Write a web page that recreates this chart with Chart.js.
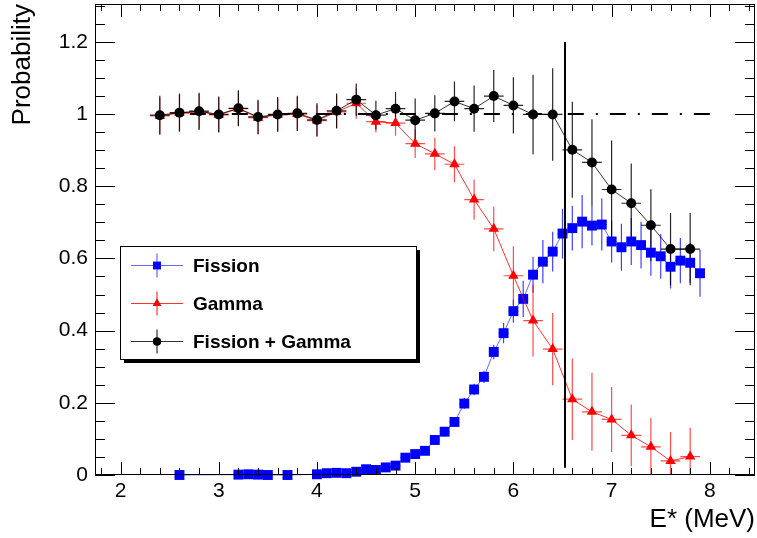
<!DOCTYPE html>
<html>
<head>
<meta charset="utf-8">
<script src="https://cdn.jsdelivr.net/npm/chart.js@4/dist/chart.umd.min.js"></script>
<style>
  html, body { margin: 0; padding: 0; background: #fff; }
</style>
</head>
<body>
<canvas id="chart" width="757" height="538"></canvas>
<script>
// Fission probability, 0.1 MeV bins
const fissionE = [2.6, 3.2, 3.3, 3.4, 3.5, 3.7,
  4.0, 4.1, 4.2, 4.3, 4.4, 4.5, 4.6, 4.7, 4.8, 4.9,
  5.0, 5.1, 5.2, 5.3, 5.4, 5.5, 5.6, 5.7, 5.8, 5.9,
  6.0, 6.1, 6.2, 6.3, 6.4, 6.5, 6.6, 6.7, 6.8, 6.9,
  7.0, 7.1, 7.2, 7.3, 7.4, 7.5, 7.6, 7.7, 7.8, 7.9];
const fissionP = [0.0, 0.001, 0.002, 0.001, 0.0, 0.0,
  0.002, 0.005, 0.006, 0.005, 0.009, 0.016, 0.014, 0.021, 0.026, 0.048,
  0.058, 0.067, 0.097, 0.120, 0.147, 0.198, 0.237, 0.272, 0.341, 0.393,
  0.454, 0.488, 0.555, 0.591, 0.619, 0.669, 0.684, 0.702, 0.691, 0.694,
  0.647, 0.631, 0.647, 0.637, 0.616, 0.606, 0.577, 0.594, 0.588, 0.559];
const fissionErr = [0.004, 0.004, 0.004, 0.004, 0.004, 0.004,
  0.004, 0.004, 0.004, 0.005, 0.005, 0.006, 0.006, 0.007, 0.008, 0.009,
  0.010, 0.011, 0.012, 0.013, 0.014, 0.015, 0.016, 0.017, 0.020, 0.028,
  0.032, 0.050, 0.050, 0.060, 0.055, 0.069, 0.062, 0.074, 0.055, 0.072,
  0.058, 0.065, 0.065, 0.065, 0.064, 0.062, 0.060, 0.063, 0.055, 0.065];

// Gamma and Fission + Gamma, 0.2 MeV bins
const sumE = [2.4, 2.6, 2.8, 3.0, 3.2, 3.4, 3.6, 3.8, 4.0, 4.2,
  4.4, 4.6, 4.8, 5.0, 5.2, 5.4, 5.6, 5.8, 6.0, 6.2,
  6.4, 6.6, 6.8, 7.0, 7.2, 7.4, 7.6, 7.8];
const gammaP = [0.995, 1.003, 1.006, 0.998, 1.015, 0.990, 0.998, 1.000, 0.982, 1.006,
  1.030, 0.979, 0.975, 0.918, 0.890, 0.861, 0.763, 0.682, 0.552, 0.428,
  0.349, 0.210, 0.175, 0.154, 0.110, 0.078, 0.039, 0.051];
const gammaErr = [0.050, 0.050, 0.050, 0.048, 0.048, 0.046, 0.046, 0.047, 0.044, 0.046,
  0.043, 0.030, 0.035, 0.040, 0.045, 0.050, 0.056, 0.062, 0.082, 0.100,
  0.100, 0.113, 0.108, 0.090, 0.085, 0.080, 0.080, 0.080];
const sumP = [0.997, 1.004, 1.008, 0.999, 1.016, 0.992, 0.999, 1.002, 0.984, 1.009,
  1.040, 0.997, 1.015, 0.983, 1.002, 1.035, 1.015, 1.050, 1.024, 0.999,
  0.999, 0.901, 0.866, 0.791, 0.753, 0.692, 0.626, 0.626];
const sumErr = [0.054, 0.053, 0.051, 0.050, 0.050, 0.048, 0.048, 0.049, 0.046, 0.048,
  0.045, 0.040, 0.046, 0.060, 0.050, 0.055, 0.064, 0.072, 0.078, 0.110,
  0.128, 0.133, 0.120, 0.136, 0.110, 0.100, 0.100, 0.100];

const xTicks = [2, 3, 4, 5, 6, 7, 8];
const yTicks = [0, 0.2, 0.4, 0.6, 0.8, 1, 1.2];

// reference lines
const cutEnergy = 6.53;
const cutRange = [0.02, 1.2];
const unityRange = [2.4, 8.0];

const FONT = "'Liberation Sans', Arial, Helvetica, sans-serif";
Chart.defaults.font.family = FONT;
Chart.defaults.color = "#000";

const toPoints = (xs, ys) => xs.map((x, i) => ({ x, y: ys[i] }));

const errorSets = [
  { xs: fissionE, ys: fissionP, err: fissionErr, half: 0.05, color: "rgba(0,0,255,0.75)" },
  { xs: sumE, ys: gammaP, err: gammaErr, half: 0.1, color: "rgba(255,0,0,0.7)" },
  { xs: sumE, ys: sumP, err: sumErr, half: 0.1, color: "rgba(0,0,0,0.85)" },
];

const errorBars = {
  id: "errorBars",
  beforeDatasetsDraw(chart) {
    const { ctx, chartArea: a, scales: { x, y } } = chart;
    ctx.save();
    ctx.beginPath();
    ctx.rect(a.left, a.top, a.right - a.left, a.bottom - a.top);
    ctx.clip();
    ctx.lineWidth = 1.2;
    errorSets.forEach((s) => {
      ctx.strokeStyle = s.color;
      ctx.beginPath();
      s.xs.forEach((xv, i) => {
        const px = x.getPixelForValue(xv);
        const py = y.getPixelForValue(s.ys[i]);
        ctx.moveTo(px, y.getPixelForValue(s.ys[i] - s.err[i]));
        ctx.lineTo(px, y.getPixelForValue(s.ys[i] + s.err[i]));
        ctx.moveTo(x.getPixelForValue(xv - s.half), py);
        ctx.lineTo(x.getPixelForValue(xv + s.half), py);
      });
      ctx.stroke();
    });
    ctx.restore();
  },
};

const refLines = {
  id: "refLines",
  afterDatasetsDraw(chart) {
    const { ctx, scales: { x, y } } = chart;
    ctx.save();
    ctx.strokeStyle = "#000";
    ctx.lineWidth = 2;
    ctx.beginPath();
    const cx = Math.round(x.getPixelForValue(cutEnergy));
    ctx.moveTo(cx, y.getPixelForValue(cutRange[0]));
    ctx.lineTo(cx, y.getPixelForValue(cutRange[1]));
    ctx.stroke();

    ctx.setLineDash([16, 12, 2, 12]);
    ctx.beginPath();
    const uy = Math.round(y.getPixelForValue(1));
    ctx.moveTo(x.getPixelForValue(unityRange[1]), uy);
    ctx.lineTo(x.getPixelForValue(unityRange[0]), uy);
    ctx.stroke();
    ctx.restore();
  },
};

// ROOT style frame with inward ticks on all four sides
const rootFrame = {
  id: "rootFrame",
  afterDraw(chart) {
    const { ctx, chartArea: a, scales: { x, y } } = chart;
    ctx.save();
    ctx.strokeStyle = "#000";
    ctx.lineWidth = 1;
    ctx.strokeRect(a.left + 0.5, a.top + 0.5, a.right - a.left - 1, a.bottom - a.top - 1);
    ctx.beginPath();
    for (let i = 9; i <= 42; i++) {
      const px = Math.round(x.getPixelForValue(i / 5)) + 0.5;
      const len = i % 5 === 0 ? 13 : 7;
      ctx.moveTo(px, a.bottom);
      ctx.lineTo(px, a.bottom - len);
      ctx.moveTo(px, a.top);
      ctx.lineTo(px, a.top + len);
    }
    for (let i = 0; i <= 26; i++) {
      const py = Math.round(y.getPixelForValue(i * 0.05)) + 0.5;
      const len = i % 4 === 0 ? 20 : 10;
      ctx.moveTo(a.left, py);
      ctx.lineTo(a.left + len, py);
      ctx.moveTo(a.right, py);
      ctx.lineTo(a.right - len, py);
    }
    ctx.stroke();
    ctx.restore();
  },
};

const legendBox = { left: 120, top: 246, width: 296, height: 113 };
const legendOrder = [2, 1, 0];

const rootLegend = {
  id: "rootLegend",
  afterDraw(chart) {
    const { ctx } = chart;
    const b = legendBox;
    ctx.save();
    ctx.fillStyle = "#000";
    ctx.fillRect(b.left + 4, b.top + 4, b.width, b.height);
    ctx.fillStyle = "#fff";
    ctx.fillRect(b.left, b.top, b.width, b.height);
    ctx.strokeStyle = "#000";
    ctx.lineWidth = 1;
    ctx.strokeRect(b.left + 0.5, b.top + 0.5, b.width, b.height);

    legendOrder.forEach((di, row) => {
      const ds = chart.data.datasets[di];
      const ry = b.top + 19.5 + row * 38;
      const mx = b.left + 37;
      ctx.strokeStyle = ds.borderColor;
      ctx.lineWidth = 1.2;
      ctx.beginPath();
      ctx.moveTo(b.left + 11, ry);
      ctx.lineTo(b.left + 63, ry);
      ctx.moveTo(mx, ry - 12);
      ctx.lineTo(mx, ry + 12);
      ctx.stroke();
      Chart.helpers.drawPoint(ctx, {
        pointStyle: ds.pointStyle,
        radius: ds.pointRadius * 0.8,
        borderWidth: 0,
      }, mx, ry);
      ctx.fillStyle = ds.pointBackgroundColor;
      ctx.fill();

      ctx.fillStyle = "#000";
      ctx.font = "bold 19px " + FONT;
      ctx.textBaseline = "middle";
      ctx.textAlign = "left";
      ctx.fillText(ds.label, b.left + 73, ry + 1);
    });
    ctx.restore();
  },
};

const noEdgePadding = (s) => {
  s.paddingTop = 0;
  s.paddingBottom = 0;
  s.paddingLeft = 0;
  s.paddingRight = 0;
};

new Chart(document.getElementById("chart"), {
  type: "scatter",
  data: {
    datasets: [
      {
        label: "Fission + Gamma",
        data: toPoints(sumE, sumP),
        showLine: true,
        borderColor: "rgba(0,0,0,0.8)",
        borderWidth: 1,
        pointStyle: "circle",
        pointRadius: 5,
        pointBackgroundColor: "#000",
        pointBorderWidth: 0,
        clip: false,
      },
      {
        label: "Gamma",
        data: toPoints(sumE, gammaP),
        showLine: true,
        borderColor: "rgba(255,0,0,0.8)",
        borderWidth: 1,
        pointStyle: "triangle",
        pointRadius: 6,
        pointBackgroundColor: "#ff0000",
        pointBorderWidth: 0,
        clip: false,
      },
      {
        label: "Fission",
        data: toPoints(fissionE, fissionP),
        showLine: true,
        borderColor: "rgba(0,0,255,0.6)",
        borderWidth: 1,
        pointStyle: "rect",
        pointRadius: 7,
        pointBackgroundColor: "#0000ff",
        pointBorderWidth: 0,
        clip: false,
      },
    ],
  },
  options: {
    responsive: false,
    animation: false,
    layout: { autoPadding: false, padding: { top: 4, right: 2, left: 0, bottom: 0 } },
    plugins: { legend: { display: false }, tooltip: { enabled: false } },
    scales: {
      x: {
        type: "linear",
        min: 1.74,
        max: 8.46,
        grid: { display: false, drawTicks: false },
        border: { display: false },
        afterBuildTicks: (s) => { s.ticks = xTicks.map((v) => ({ value: v })); },
        afterFit: (s) => { s.height = 63; noEdgePadding(s); },
        ticks: { font: { size: 21 }, padding: 4, maxRotation: 0, callback: (v) => String(v) },
        title: {
          display: true,
          text: "E* (MeV)",
          align: "end",
          font: { size: 26 },
          padding: { top: 0, bottom: 3 },
        },
      },
      y: {
        type: "linear",
        min: 0,
        max: 1.305,
        grid: { display: false, drawTicks: false },
        border: { display: false },
        afterBuildTicks: (s) => { s.ticks = yTicks.map((v) => ({ value: v })); },
        afterFit: (s) => { s.width = 95; noEdgePadding(s); },
        ticks: { font: { size: 21 }, padding: 7, callback: (v) => String(v) },
        title: {
          display: true,
          text: "Probability",
          align: "end",
          font: { size: 26 },
          padding: { top: 7, bottom: 0 },
        },
      },
    },
  },
  plugins: [errorBars, refLines, rootFrame, rootLegend],
});
</script>
</body>
</html>
